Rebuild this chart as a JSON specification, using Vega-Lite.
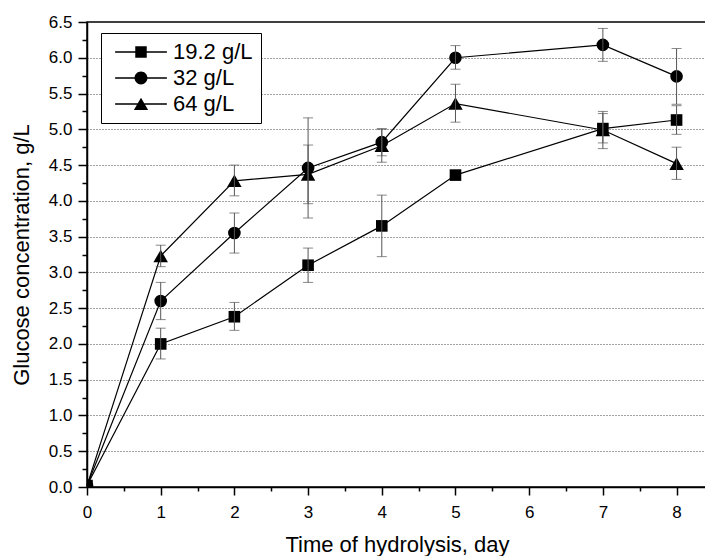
{
  "$schema": "https://vega.github.io/schema/vega-lite/v6.json",
  "width": 620,
  "height": 465,
  "autosize": {"type": "none"},
  "padding": {"left": 87, "top": 22, "right": 0, "bottom": 69},
  "background": "white",
  "config": {
    "font": "Liberation Sans",
    "view": {"stroke": "black", "strokeWidth": 1.5},
    "legend": {
      "orient": "none", "legendX": 14, "legendY": 11,
      "strokeColor": "black", "fillColor": "white", "padding": 8,
      "symbolSize": 196, "symbolOffset": 21, "labelOffset": 21,
      "labelFontSize": 22, "labelFont": "Liberation Sans", "labelColor": "black", "rowPadding": 4,
      "symbolStrokeWidth": 0, "symbolFillColor": "black", "symbolOpacity": 1
    }
  },
  "datasets": {
    "pts": [
      {"t": 0, "s": "19.2 g/L", "v": 0.02}, {"t": 1, "s": "19.2 g/L", "v": 2.0}, {"t": 2, "s": "19.2 g/L", "v": 2.38}, {"t": 3, "s": "19.2 g/L", "v": 3.1}, {"t": 4, "s": "19.2 g/L", "v": 3.65}, {"t": 5, "s": "19.2 g/L", "v": 4.36}, {"t": 7, "s": "19.2 g/L", "v": 5.01}, {"t": 8, "s": "19.2 g/L", "v": 5.13},
      {"t": 0, "s": "32 g/L", "v": 0.02}, {"t": 1, "s": "32 g/L", "v": 2.6}, {"t": 2, "s": "32 g/L", "v": 3.55}, {"t": 3, "s": "32 g/L", "v": 4.46}, {"t": 4, "s": "32 g/L", "v": 4.82}, {"t": 5, "s": "32 g/L", "v": 6.0}, {"t": 7, "s": "32 g/L", "v": 6.18}, {"t": 8, "s": "32 g/L", "v": 5.74},
      {"t": 0, "s": "64 g/L", "v": 0.02}, {"t": 1, "s": "64 g/L", "v": 3.23}, {"t": 2, "s": "64 g/L", "v": 4.28}, {"t": 3, "s": "64 g/L", "v": 4.37}, {"t": 4, "s": "64 g/L", "v": 4.77}, {"t": 5, "s": "64 g/L", "v": 5.36}, {"t": 7, "s": "64 g/L", "v": 4.99}, {"t": 8, "s": "64 g/L", "v": 4.52}
    ],
    "err": [
      {"t": 1, "s": "19.2 g/L", "lo": 1.79, "hi": 2.22}, {"t": 2, "s": "19.2 g/L", "lo": 2.19, "hi": 2.58}, {"t": 3, "s": "19.2 g/L", "lo": 2.86, "hi": 3.34}, {"t": 4, "s": "19.2 g/L", "lo": 3.22, "hi": 4.08}, {"t": 7, "s": "19.2 g/L", "lo": 4.81, "hi": 5.22}, {"t": 8, "s": "19.2 g/L", "lo": 4.93, "hi": 5.33},
      {"t": 1, "s": "32 g/L", "lo": 2.34, "hi": 2.86}, {"t": 2, "s": "32 g/L", "lo": 3.27, "hi": 3.83}, {"t": 3, "s": "32 g/L", "lo": 3.76, "hi": 5.16}, {"t": 4, "s": "32 g/L", "lo": 4.63, "hi": 5.01}, {"t": 5, "s": "32 g/L", "lo": 5.84, "hi": 6.17}, {"t": 7, "s": "32 g/L", "lo": 5.95, "hi": 6.41}, {"t": 8, "s": "32 g/L", "lo": 5.35, "hi": 6.13},
      {"t": 1, "s": "64 g/L", "lo": 3.08, "hi": 3.38}, {"t": 2, "s": "64 g/L", "lo": 4.07, "hi": 4.5}, {"t": 3, "s": "64 g/L", "lo": 3.96, "hi": 4.78}, {"t": 4, "s": "64 g/L", "lo": 4.54, "hi": 5.0}, {"t": 5, "s": "64 g/L", "lo": 5.1, "hi": 5.63}, {"t": 7, "s": "64 g/L", "lo": 4.73, "hi": 5.25}, {"t": 8, "s": "64 g/L", "lo": 4.3, "hi": 4.75}
    ]
  },
  "encoding": {
    "x": {
      "field": "t", "type": "quantitative", "title": "Time of hydrolysis, day",
      "scale": {"domain": [0, 8.413], "nice": false, "zero": false},
      "axis": {
        "values": [0, 0.5, 1, 1.5, 2, 2.5, 3, 3.5, 4, 4.5, 5, 5.5, 6, 6.5, 7, 7.5, 8],
        "labelExpr": "datum.value % 1 === 0 ? format(datum.value, 'd') : ''",
        "labelOverlap": false, "labelFlush": false,
        "tickSize": {"condition": {"test": "datum.value % 1 !== 0", "value": 4}, "value": 8},
        "tickWidth": 1.5, "tickColor": "black", "domainColor": "black", "domainWidth": 1.5,
        "grid": false, "labelFontSize": 17, "labelColor": "black", "labelPadding": 9,
        "titleFontSize": 22, "titleFontWeight": "normal", "titleColor": "black", "titlePadding": 14
      }
    },
    "y": {
      "field": "v", "type": "quantitative", "title": "Glucose concentration, g/L",
      "scale": {"domain": [0, 6.5], "nice": false},
      "axis": {
        "values": [0, 0.25, 0.5, 0.75, 1, 1.25, 1.5, 1.75, 2, 2.25, 2.5, 2.75, 3, 3.25, 3.5, 3.75, 4, 4.25, 4.5, 4.75, 5, 5.25, 5.5, 5.75, 6, 6.25, 6.5],
        "labelExpr": "datum.value % 0.5 === 0 ? format(datum.value, '.1f') : ''",
        "labelOverlap": false, "labelFlush": false,
        "tickSize": {"condition": {"test": "datum.value % 0.5 !== 0", "value": 5}, "value": 9},
        "tickWidth": 1.5, "tickColor": "black", "domainColor": "black", "domainWidth": 1.5,
        "grid": true, "gridDash": [1, 2], "gridColor": "#444", "gridWidth": 1,
        "gridOpacity": {"condition": {"test": "datum.value % 0.5 !== 0 || datum.value === 0", "value": 0}, "value": 1},
        "labelFontSize": 17, "labelColor": "black", "labelPadding": 6,
        "titleFontSize": 22, "titleFontWeight": "normal", "titleColor": "black", "titlePadding": 15
      }
    }
  },
  "layer": [
    {
      "data": {"name": "pts"},
      "transform": [{"filter": "datum.t < 0"}],
      "mark": {"type": "point", "filled": true, "color": "black", "opacity": 1},
      "encoding": {
        "shape": {
          "field": "s", "type": "nominal",
          "scale": {"domain": ["19.2 g/L", "32 g/L", "64 g/L"], "range": [
            "M-3.7,-0.09H3.7V0.09H-3.7ZM-0.82,-0.82H0.82V0.82H-0.82Z",
            "M-3.7,-0.09H3.7V0.09H-3.7ZM0.92,0A0.92,0.92,0,1,1,-0.92,0A0.92,0.92,0,1,1,0.92,0Z",
            "M-3.7,-0.09H3.7V0.09H-3.7ZM0,-0.9L1.02,0.86H-1.02Z"
          ]},
          "legend": {"title": null}
        }
      }
    },
    {
      "data": {"name": "pts"},
      "mark": {"type": "line", "color": "black", "strokeWidth": 1.2},
      "encoding": {"detail": {"field": "s"}}
    },
    {
      "data": {"name": "pts"},
      "transform": [{"filter": {"field": "s", "equal": "19.2 g/L"}}],
      "mark": {"type": "point", "shape": "square", "filled": true, "color": "black", "opacity": 1, "size": 135, "clip": true}
    },
    {
      "data": {"name": "pts"},
      "transform": [{"filter": {"field": "s", "equal": "32 g/L"}}],
      "mark": {"type": "point", "shape": "circle", "filled": true, "color": "black", "opacity": 1, "size": 160, "clip": true}
    },
    {
      "data": {"name": "pts"},
      "transform": [{"filter": {"field": "s", "equal": "64 g/L"}}],
      "mark": {"type": "point", "shape": "triangle-up", "filled": true, "color": "black", "opacity": 1, "size": 210, "clip": true}
    },
    {
      "data": {"name": "err"},
      "mark": {"type": "errorbar", "color": "#555", "thickness": 1, "ticks": {"size": 10, "color": "#555", "thickness": 1}},
      "encoding": {"y": {"field": "lo", "type": "quantitative"}, "y2": {"field": "hi"}}
    }
  ]
}
